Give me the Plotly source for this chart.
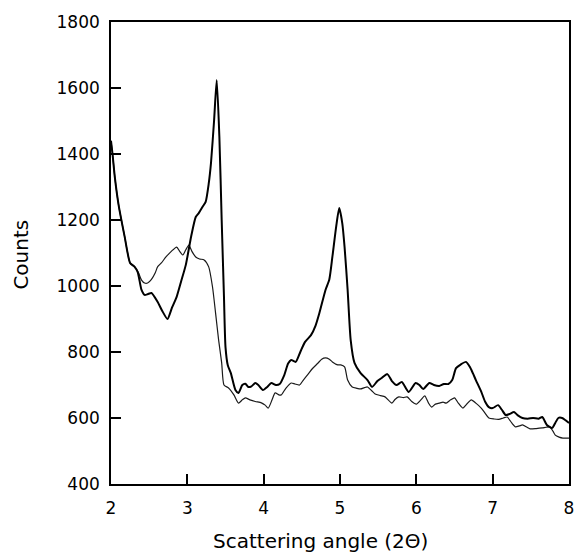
import plotly.graph_objects as go

# Scattering angle (2Θ) and counts, bold trace
angle_a = [2.00, 2.02, 2.05, 2.10, 2.18, 2.25, 2.31, 2.35, 2.40, 2.44, 2.48, 2.53, 2.61, 2.67,
           2.74, 2.80, 2.86, 2.92, 2.98, 3.05, 3.11, 3.15, 3.20, 3.24, 3.28, 3.31, 3.35, 3.385,
           3.42, 3.45, 3.48, 3.50, 3.53, 3.57, 3.63, 3.67, 3.72, 3.76, 3.80, 3.84, 3.89, 3.93,
           3.99, 4.05, 4.10, 4.16, 4.21, 4.27, 4.32, 4.36, 4.42, 4.48, 4.54, 4.62, 4.68, 4.73,
           4.81, 4.86, 4.90, 4.95, 4.99, 5.03, 5.06, 5.10, 5.14, 5.19, 5.27, 5.36, 5.42, 5.49,
           5.55, 5.62, 5.68, 5.74, 5.81, 5.90, 5.99, 6.04, 6.09, 6.17, 6.23, 6.30, 6.36, 6.42,
           6.47, 6.52, 6.58, 6.65, 6.70, 6.74, 6.78, 6.85, 6.90, 6.95, 7.00, 7.07, 7.12, 7.17,
           7.22, 7.28, 7.33, 7.39, 7.46, 7.53, 7.60, 7.65, 7.71, 7.78, 7.82, 7.86, 7.91, 7.95,
           8.00]
counts_a = [1440, 1400, 1330, 1245, 1148, 1070, 1058, 1042, 988, 973, 975, 979, 952, 925,
            900, 935, 967, 1015, 1064, 1150, 1209, 1221, 1240, 1255, 1310, 1373, 1500, 1624,
            1450, 1200, 967, 815, 760, 736, 685, 676, 700, 704, 694, 696, 706, 700,
            685, 695, 706, 700, 703, 730, 765, 776, 770, 800, 830, 851, 880, 918,
            988, 1020, 1088, 1180, 1236, 1190, 1118, 988, 836, 767, 736, 715, 694, 712,
            722, 733, 712, 700, 709, 679, 706, 700, 688, 706, 700, 697, 703, 703,
            715, 751, 762, 770, 755, 736, 715, 680, 650, 633, 630, 639, 625, 609,
            612, 618, 608, 600, 598, 600, 598, 603, 579, 570, 585, 600, 600, 594,
            585]

# Thin trace
angle_b = [2.00, 2.02, 2.05, 2.10, 2.18, 2.25, 2.31, 2.36, 2.40, 2.44, 2.48, 2.53, 2.58, 2.61,
           2.66, 2.72, 2.79, 2.86, 2.90, 2.94, 2.98, 3.02, 3.06, 3.11, 3.16, 3.22, 3.28, 3.33,
           3.37, 3.41, 3.45, 3.48, 3.54, 3.61, 3.67, 3.72, 3.76, 3.82, 3.89, 3.97, 4.02, 4.06,
           4.11, 4.15, 4.20, 4.23, 4.29, 4.36, 4.41, 4.47, 4.52, 4.58, 4.64, 4.71, 4.76, 4.81,
           4.86, 4.90, 4.97, 5.01, 5.06, 5.10, 5.16, 5.22, 5.27, 5.32, 5.36, 5.41, 5.46, 5.53,
           5.59, 5.68, 5.72, 5.77, 5.83, 5.88, 5.94, 6.00, 6.06, 6.11, 6.16, 6.20, 6.25, 6.30,
           6.35, 6.39, 6.45, 6.50, 6.55, 6.61, 6.66, 6.72, 6.78, 6.85, 6.90, 6.95, 7.02, 7.08,
           7.14, 7.19, 7.25, 7.30, 7.35, 7.39, 7.45, 7.49, 7.57, 7.65, 7.70, 7.75, 7.79, 7.82,
           7.87, 7.92, 8.00]
counts_b = [1440, 1400, 1330, 1245, 1148, 1070, 1058, 1040, 1018, 1009, 1009, 1020, 1040, 1058,
            1070, 1088, 1105, 1118, 1105, 1094, 1110, 1124, 1105, 1088, 1082, 1079, 1058, 997,
            918, 836, 767, 700, 691, 670, 645, 655, 661, 655, 650, 646, 639, 630,
            655, 676, 670, 670, 690, 706, 703, 700, 715, 732, 750, 766, 778, 782,
            778, 770, 761, 761, 755, 715, 694, 690, 688, 692, 694, 684, 673, 668,
            664, 645, 656, 664, 662, 664, 650, 642, 655, 667, 645, 633, 642, 645,
            648, 645, 655, 661, 645, 630, 642, 655, 645, 630, 615, 600, 597, 596,
            600, 603, 585, 573, 576, 579, 572, 567, 568, 570, 572, 573, 560, 548,
            542, 539, 539]

x_ticks = [2, 3, 4, 5, 6, 7, 8]
y_ticks = [400, 600, 800, 1000, 1200, 1400, 1600, 1800]

FONT = "DejaVu Sans"
TITLE_FONT = dict(family=FONT, size=20, color="black")

fig = go.Figure()
fig.add_trace(go.Scatter(x=angle_b, y=counts_b, mode="lines",
                         line=dict(color="#1a1a1a", width=1.2, shape="spline", smoothing=0.6),
                         showlegend=False))
fig.add_trace(go.Scatter(x=angle_a, y=counts_a, mode="lines",
                         line=dict(color="#000000", width=2, shape="spline", smoothing=0.6),
                         showlegend=False))

axis_common = dict(
    showgrid=False, zeroline=False, showline=True, linecolor="black", linewidth=1.6,
    mirror=True, ticks="inside", ticklen=10, tickwidth=1.5, tickcolor="black",
    tickfont=dict(family=FONT, size=17, color="black"),
)

fig.update_xaxes(range=[2, 8], tickvals=x_ticks, ticklabelstandoff=8, **axis_common)
fig.update_yaxes(range=[400, 1800], tickvals=y_ticks, ticklabelstandoff=6, **axis_common)

# Axis titles
fig.add_annotation(text="Scattering angle (2Θ)", xref="paper", yref="paper",
                   x=0.218, y=-0.123, xanchor="left", yanchor="middle",
                   showarrow=False, font=TITLE_FONT)
fig.add_annotation(text="Counts", xref="paper", yref="paper",
                   x=-0.197, y=0.496, xanchor="center", yanchor="middle", textangle=-90,
                   showarrow=False, font=TITLE_FONT)

fig.update_layout(
    width=583, height=556,
    margin=dict(l=111, r=9, t=22, b=72),
    paper_bgcolor="white", plot_bgcolor="white",
)

fig.write_html("out.html")
